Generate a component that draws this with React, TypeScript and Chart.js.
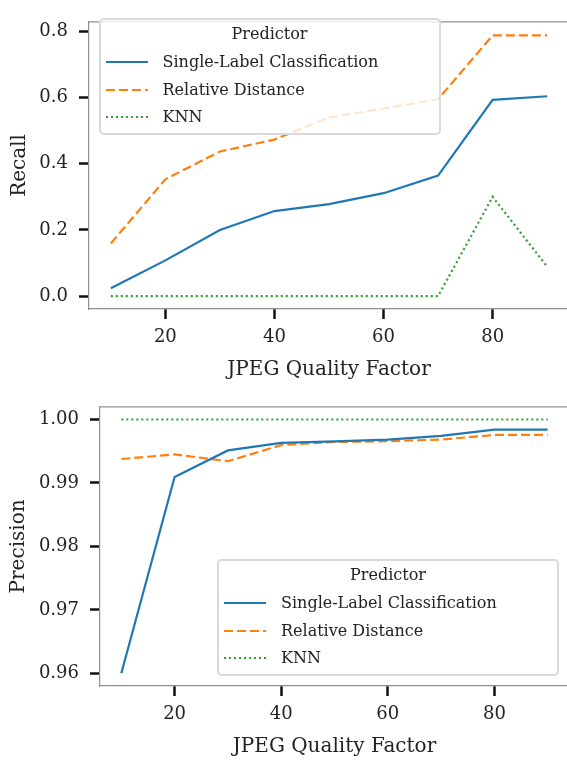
import React, { useEffect, useRef } from "react";
import { Chart, registerables } from "chart.js";

Chart.register(...registerables);

const FONT = "'DejaVu Serif', serif";
const TEXT = "#222222";
const SPINE = "#8f8f8f";
const TICK = "#111111";

// ---- data ----
const qualityFactors = [10, 20, 30, 40, 50, 60, 70, 80, 90];
const xTickValues = [20, 40, 60, 80];

const recallSingleLabel = [0.024, 0.108, 0.2, 0.257, 0.278, 0.311, 0.364, 0.593, 0.604];
const recallRelativeDistance = [0.159, 0.353, 0.437, 0.473, 0.54, 0.567, 0.595, 0.788, 0.788];
const recallKNN = [0.0, 0.0, 0.0, 0.0, 0.0, 0.0, 0.0, 0.3, 0.089];
const recallTicks = [0, 0.2, 0.4, 0.6, 0.8];

const precisionSingleLabel = [0.96, 0.99095, 0.99513, 0.9963, 0.99654, 0.99684, 0.99742, 0.99839, 0.99839];
const precisionRelativeDistance = [0.99377, 0.9945, 0.99343, 0.99596, 0.99645, 0.99657, 0.99684, 0.99756, 0.99756];
const precisionKNN = [1, 1, 1, 1, 1, 1, 1, 1, 1];
const precisionTicks = [0.96, 0.97, 0.98, 0.99, 1.0];

const legendTitle = "Predictor";
const predictorNames = ["Single-Label Classification", "Relative Distance", "KNN"];
const predictorColors = ["#1f77b4", "#ff7f0e", "#2ca02c"];
const predictorDashes: number[][] = [[], [9, 4], [2, 3]];

const topSpinePlugin = {
  id: "topSpine",
  afterDraw(chart: any) {
    const { ctx, chartArea } = chart;
    ctx.save();
    ctx.strokeStyle = SPINE;
    ctx.lineWidth = 1.2;
    ctx.beginPath();
    ctx.moveTo(chartArea.left, chartArea.top);
    ctx.lineTo(chartArea.right, chartArea.top);
    ctx.stroke();
    ctx.restore();
  },
};

type PanelProps = {
  series: number[][];
  yTicks: number[];
  yMin: number;
  yMax: number;
  decimals: number;
  yTitle: string;
  yTitlePad: number;
  yAxisWidth: number;
  xAxisHeight: number;
  padTop: number;
  xTitlePadBottom: number;
  top: number;
  height: number;
};

function Panel(p: PanelProps) {
  const ref = useRef<HTMLCanvasElement>(null);
  useEffect(() => {
    const chart = new Chart(ref.current as HTMLCanvasElement, {
      type: "line",
      data: {
        datasets: p.series.map((vals, i) => ({
          label: predictorNames[i],
          data: qualityFactors.map((x, j) => ({ x, y: vals[j] })),
          borderColor: predictorColors[i],
          backgroundColor: predictorColors[i],
          borderWidth: 2.2,
          borderDash: predictorDashes[i],
          pointRadius: 0,
          tension: 0,
          fill: false,
        })),
      },
      options: {
        animation: false,
        responsive: false,
        maintainAspectRatio: false,
        devicePixelRatio: 1,
        layout: { padding: { top: p.padTop, right: 1, left: 0, bottom: 0 } },
        plugins: { legend: { display: false }, tooltip: { enabled: false } },
        scales: {
          x: {
            type: "linear",
            min: 6,
            max: 94,
            afterBuildTicks: (s: any) => {
              s.ticks = xTickValues.map((v) => ({ value: v }));
            },
            afterFit: (s: any) => {
              s.height = p.xAxisHeight;
            },
            ticks: {
              font: { family: FONT, size: 18 },
              color: TEXT,
              padding: 8,
              maxRotation: 0,
              autoSkip: false,
              callback: (v: any) => String(v),
            },
            grid: {
              drawOnChartArea: false,
              drawTicks: true,
              tickLength: 10,
              tickWidth: 2.5,
              tickColor: TICK,
            },
            border: { color: SPINE, width: 1.2 },
            title: {
              display: true,
              text: "JPEG Quality Factor",
              font: { family: FONT, size: 20 },
              color: TEXT,
              padding: { top: 0, bottom: p.xTitlePadBottom },
            },
          },
          y: {
            type: "linear",
            min: p.yMin,
            max: p.yMax,
            afterBuildTicks: (s: any) => {
              s.ticks = p.yTicks.map((v) => ({ value: v }));
            },
            afterFit: (s: any) => {
              s.width = p.yAxisWidth;
            },
            ticks: {
              font: { family: FONT, size: 18 },
              color: TEXT,
              padding: 11,
              autoSkip: false,
              callback: (v: any) => Number(v).toFixed(p.decimals),
            },
            grid: {
              drawOnChartArea: false,
              drawTicks: true,
              tickLength: 10,
              tickWidth: 2.5,
              tickColor: TICK,
            },
            border: { color: SPINE, width: 1.2 },
            title: {
              display: true,
              text: p.yTitle,
              font: { family: FONT, size: 20 },
              color: TEXT,
              padding: { top: p.yTitlePad, bottom: 0 },
            },
          },
        },
      } as any,
      plugins: [topSpinePlugin],
    });
    return () => chart.destroy();
  }, []);
  return (
    <canvas
      ref={ref}
      width={570}
      height={p.height}
      style={{ position: "absolute", left: 0, top: p.top, width: 570, height: p.height }}
    />
  );
}

function Legend({ left, top }: { left: number; top: number }) {
  const rowY = [44, 71.5, 99];
  return (
    <div
      style={{
        position: "absolute",
        left,
        top,
        width: 342,
        height: 117,
        boxSizing: "border-box",
        border: "2px solid #d9d9d9",
        borderRadius: 5,
        background: "rgba(255,255,255,0.8)",
        fontFamily: FONT,
        fontSize: 16,
        color: TEXT,
        lineHeight: "20px",
      }}
    >
      <div
        style={{
          position: "absolute",
          left: 0,
          right: 0,
          top: 16 - 2 - 10,
          height: 20,
          textAlign: "center",
          whiteSpace: "nowrap",
        }}
      >
        {legendTitle}
      </div>
      {predictorNames.map((name, i) => (
        <React.Fragment key={name}>
          <svg
            width={42}
            height={6}
            style={{ position: "absolute", left: 7 - 2, top: rowY[i] - 2 - 3 }}
          >
            <line
              x1={0}
              y1={3}
              x2={42}
              y2={3}
              stroke={predictorColors[i]}
              strokeWidth={2.2}
              strokeDasharray={predictorDashes[i].length ? predictorDashes[i].join(" ") : undefined}
            />
          </svg>
          <div
            style={{
              position: "absolute",
              left: 64 - 2,
              top: rowY[i] - 2 - 10,
              height: 20,
              whiteSpace: "nowrap",
            }}
          >
            {name}
          </div>
        </React.Fragment>
      ))}
    </div>
  );
}

export default function App() {
  return (
    <div
      style={{
        position: "absolute",
        left: 0,
        top: 0,
        width: 567,
        height: 763,
        overflow: "hidden",
        background: "#ffffff",
      }}
    >
      <Panel
        series={[recallSingleLabel, recallRelativeDistance, recallKNN]}
        yTicks={recallTicks}
        yMin={-0.039}
        yMax={0.829}
        decimals={1}
        yTitle="Recall"
        yTitlePad={8}
        yAxisWidth={89}
        xAxisHeight={76}
        padTop={8}
        xTitlePadBottom={3}
        top={0}
        height={385}
      />
      <Panel
        series={[precisionSingleLabel, precisionRelativeDistance, precisionKNN]}
        yTicks={precisionTicks}
        yMin={0.958}
        yMax={1.002}
        decimals={2}
        yTitle="Precision"
        yTitlePad={7}
        yAxisWidth={100}
        xAxisHeight={77}
        padTop={1}
        xTitlePadBottom={4}
        top={385}
        height={378}
      />
      <Legend left={98.5} top={18} />
      <Legend left={217} top={559} />
    </div>
  );
}
